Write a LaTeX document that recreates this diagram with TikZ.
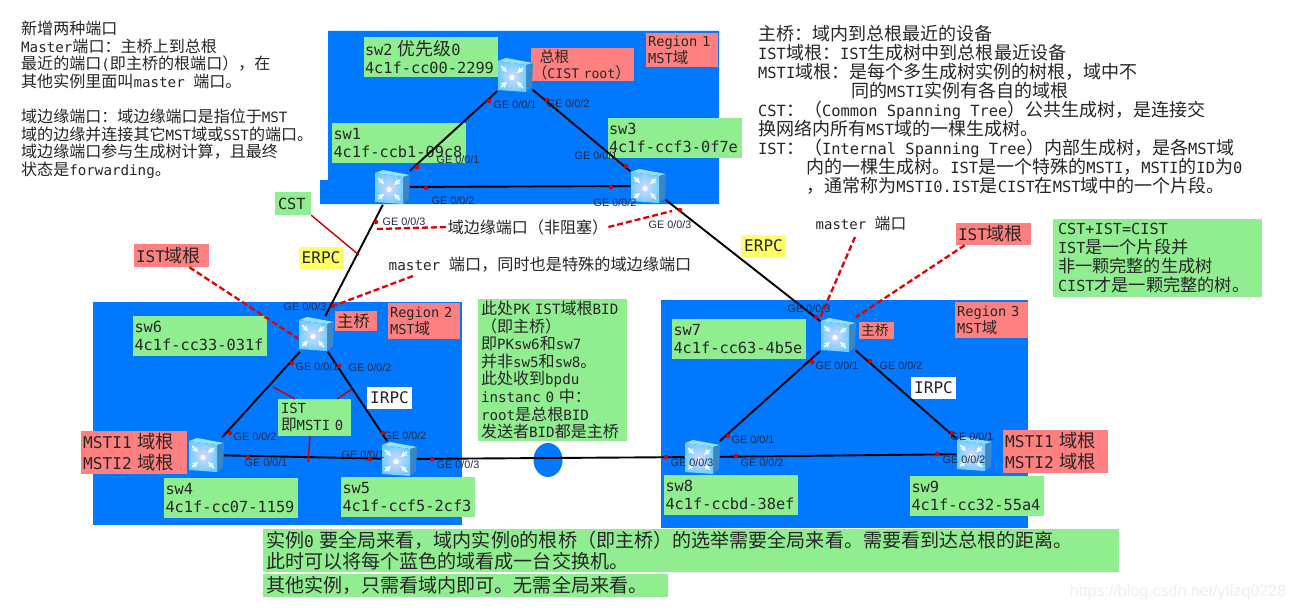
\documentclass[tikz,border=0pt]{standalone}
\usepackage{fontspec}
\setmainfont{DejaVu Sans Mono}
\newfontfamily\cjkfont[Scale=1.13]{Noto Sans CJK SC}
\newfontfamily\cjkwide[Scale=1.17]{Noto Sans CJK SC}
\newfontfamily\portfont{Liberation Sans}
\newcommand\zh[1]{{\cjkfont #1}}
\newcommand\zc{^^^^ff1a}
\newcommand\zd{^^^^ff0c}
\newcommand\zl{^^^^ff08}
\newcommand\zr{^^^^ff09}

\definecolor{regionblue}{HTML}{0078FF}
\definecolor{labelgreen}{HTML}{90EE90}
\definecolor{notered}{HTML}{FF8080}
\definecolor{ringyellow}{HTML}{FFFF66}
\definecolor{darktext}{HTML}{262626}
\definecolor{porttext}{HTML}{1F2A44}

\tikzset{
  swnode/.style={minimum size=35pt,inner sep=0pt},
  swlabel/.style={fill=labelgreen,text=darktext,inner xsep=1.5pt,inner ysep=0pt,text width=131pt,minimum height=40pt,align=left,font=\fontsize{15.3}{18}\selectfont\let\cjkfont\cjkwide},
  redbox/.style 2 args={fill=notered,text=darktext,inner xsep=2pt,inner ysep=0pt,text width=#1,minimum height=#2,align=left},
  greenbox/.style 2 args={fill=labelgreen,text=darktext,inner xsep=3pt,inner ysep=0pt,text width=#1,minimum height=#2,align=left},
  ringbox/.style={text=darktext,minimum width=45pt,minimum height=22pt,inner sep=0pt,font=\fontsize{16}{18}\selectfont},
  note/.style={text=darktext,anchor=north west,inner sep=0pt,align=left},
  smallnote/.style={note,font=\fontsize{14.2}{17.6}\selectfont},
  bignote/.style={note,font=\fontsize{15.4}{19}\selectfont\let\cjkfont\cjkwide},
  portlabel/.style={text=porttext,inner sep=0pt,font=\portfont\fontsize{10.8}{12}\selectfont},
  portdot/.style={circle,fill=red!85!black,inner sep=0pt,minimum size=4.5pt},
  link/.style={line width=1.9pt,black},
  reddash/.style={line width=2.3pt,red!90!black,dash pattern=on 6pt off 3pt},
  thinred/.style={line width=1.4pt,red!80!black},
  switchicon/.pic={
    \shade[top color=blue!35!cyan!35!white,bottom color=blue!30!cyan!45!white] (-17,-14) -- (-9,-17) -- (18,-12) -- (11,-10) -- cycle;
    \fill[blue!45!cyan!55!gray] (11,-10) -- (18,-12) -- (17,12) -- (11,17) -- cycle;
    \shade[inner color=white!85!blue,outer color=blue!35!cyan!55!white] (-17,-14) -- (11,-10) -- (11,17) -- (-17,15) -- cycle;
    \draw[white,line width=1.6pt,-stealth] (-14,-9) -- (-8,-3);
    \draw[white,line width=1.6pt,-stealth] (8,-7) -- (2,-2);
    \draw[white,line width=1.6pt,-stealth] (-14,12) -- (-8,7);
    \draw[white,line width=1.6pt,-stealth] (8,13) -- (2,7);
    \fill[white] (-3,2.5) circle (2.6);
  },
}

\begin{document}
\begin{tikzpicture}[x=1pt,y=-1pt]
\useasboundingbox (0,0) rectangle (1294,610);
\fill[white] (0,0) rectangle (1294,610);

% Region backgrounds
\fill[regionblue] (328,31) -- (719,31) -- (719,204) -- (320,204) -- (320,180) -- (328,180) -- cycle;
\fill[regionblue] (93,302) rectangle (462,525);
\fill[regionblue] (661,300) rectangle (1028,528);

% Left notes
\node[smallnote] (noteports) at (21,21) {\zh{新增两种端口}\\
Master\zh{端口\zc{}主桥上到总根}\\
\zh{最近的端口}(\zh{即主桥的根端口\zr\zd{}在}\\
\zh{其他实例里面叫}master \zh{端口。}\\[17.6pt]
\zh{域边缘端口\zc{}域边缘端口是指位于}MST\\
\zh{域的边缘并连接其它}MST\zh{域或}SST\zh{的端口。}\\
\zh{域边缘端口参与生成树计算\zd{}且最终}\\
\zh{状态是}forwarding\zh{。}};

% Right notes
\node[bignote] (notetrees) at (758,25) {\zh{主桥\zc{}域内到总根最近的设备}\\
IST\zh{域根\zc{}}IST\zh{生成树中到总根最近设备}\\
MSTI\zh{域根\zc{}是每个多生成树实例的树根\zd{}域中不}\\
\hspace*{93pt}\zh{同的}MSTI\zh{实例有各自的域根}\\
CST\zh{\zc\zl}Common Spanning Tree\zh{\zr{}公共生成树\zd{}是连接交}\\
\zh{换网络内所有}MST\zh{域的一棵生成树。}\\
IST\zh{\zc\zl}Internal Spanning Tree\zh{\zr{}内部生成树\zd{}是各}MST\zh{域}\\
\hspace*{48pt}\zh{内的一棵生成树。}IST\zh{是一个特殊的}MSTI\zh{\zd}MSTI\zh{的}ID\zh{为}0\\
\hspace*{48pt}\zh{\zd{}通常称为}MSTI0.IST\zh{是}CIST\zh{在}MST\zh{域中的一个片段。}};

% Switch labels
\node[swlabel] (lbsw1) at (399,143) {sw1\\4c1f-ccb1-09c8};
\node[swlabel] (lbsw2) at (430.5,57) {sw2 \zh{优先级}0\\4c1f-cc00-2299};
\node[swlabel] (lbsw3) at (674.5,137.5) {sw3\\4c1f-ccf3-0f7e};
\node[swlabel] (lbsw4) at (231,498) {sw4\\4c1f-cc07-1159};
\node[swlabel] (lbsw5) at (408,497) {sw5\\4c1f-ccf5-2cf3};
\node[swlabel] (lbsw6) at (200,335.5) {sw6\\4c1f-cc33-031f};
\node[swlabel] (lbsw7) at (739,339) {sw7\\4c1f-cc63-4b5e};
\node[swlabel] (lbsw8) at (731,495) {sw8\\4c1f-ccbd-38ef};
\node[swlabel] (lbsw9) at (977,495.5) {sw9\\4c1f-cc32-55a4};

% Red boxes
\node[redbox={100pt}{33pt},inner xsep=1.5pt,font=\fontsize{13.2}{16}\selectfont] (rootbox) at (582.5,64.5) {\hspace*{7pt}\zh{总根}\\\zh{\zl}CIST root\zh{\zr}};
\node[redbox={68pt}{34pt},font=\fontsize{13.7}{17}\selectfont] (region1) at (682,50) {Region 1\\MST\zh{域}};
\node[redbox={68pt}{36pt},font=\fontsize{13.7}{17}\selectfont] (region2) at (424,321) {Region 2\\MST\zh{域}};
\node[redbox={69pt}{36pt},font=\fontsize{13.7}{17}\selectfont] (region3) at (991.5,320) {Region 3\\MST\zh{域}};
\node[redbox={38pt}{20pt},font=\fontsize{14.5}{17}\selectfont] (mainbr6) at (356,321) {\zh{主桥}};
\node[redbox={31pt}{17pt},font=\fontsize{12.2}{15}\selectfont] (mainbr7) at (876.5,330.5) {\zh{主桥}};
\node[redbox={102pt}{43pt},font=\fontsize{16.2}{21}\selectfont] (mstileft) at (134,452.5) {MSTI1 \zh{域根}\\MSTI2 \zh{域根}};
\node[redbox={101pt}{43pt},font=\fontsize{16.2}{21}\selectfont] (mstiright) at (1055.5,451.5) {MSTI1 \zh{域根}\\MSTI2 \zh{域根}};
\node[redbox={71pt}{23pt},font=\fontsize{16}{18}\selectfont] (istleft) at (171.5,255.5) {IST\zh{域根}};
\node[redbox={71pt}{22pt},font=\fontsize{16}{18}\selectfont] (istright) at (993.5,234) {IST\zh{域根}};

% Green boxes
\node[greenbox={30pt}{23pt},font=\fontsize{15.3}{18}\selectfont] (cstbox) at (293,203.5) {CST};
\node[greenbox={67pt}{37pt},font=\fontsize{13.9}{17}\selectfont] (istbox) at (314.5,417.5) {IST\\\zh{即}MSTI 0};
\node[greenbox={143pt}{142pt},font=\fontsize{14.2}{17.6}\selectfont] (pkbox) at (552.5,370) {\zh{此处}PK IST\zh{域根}BID\\
\zh{\zl{}即主桥\zr}\\
\zh{即}PKsw6\zh{和}sw7\\
\zh{并非}sw5\zh{和}sw8\zh{。}\\
\zh{此处收到}bpdu\\
instanc 0 \zh{中\zc}\\
root\zh{是总根}BID\\
\zh{发送者}BID\zh{都是主桥}};
\node[greenbox={199pt}{78pt},inner xsep=5pt,font=\fontsize{15.2}{19}\selectfont] (cistbox) at (1157.5,258) {CST+IST=CIST\\
IST\zh{是一个片段并}\\
\zh{非一颗完整的生成树}\\
CIST\zh{才是一颗完整的树。}};
\node[greenbox={850pt}{43pt},font=\fontsize{16.3}{21}\selectfont\let\cjkfont\cjkwide] (bottom1) at (691,550.5) {\zh{实例}0 \zh{要全局来看\zd{}域内实例}0\zh{的根桥\zl{}即主桥\zr{}的选举需要全局来看。需要看到达总根的距离。}\\
\zh{此时可以将每个蓝色的域看成一台交换机。}};
\node[greenbox={399pt}{23pt},font=\fontsize{16.3}{21}\selectfont\let\cjkfont\cjkwide] (bottom2) at (465.5,585.5) {\zh{其他实例\zd{}只需看域内即可。无需全局来看。}};

% Ring labels
\node[ringbox,fill=ringyellow] (erpcleft) at (321,258) {ERPC};
\node[ringbox,fill=ringyellow] (erpcright) at (763.5,246) {ERPC};
\node[ringbox,fill=white] (irpcleft) at (389.5,398) {IRPC};
\node[ringbox,fill=white] (irpcright) at (933.5,388) {IRPC};

% Switches
\node[swnode] (sw1) at (392,187) {};
\node[swnode] (sw2) at (515,75) {};
\node[swnode] (sw3) at (648,186) {};
\node[swnode] (sw4) at (206,455) {};
\node[swnode] (sw5) at (399,459) {};
\node[swnode] (sw6) at (316,334) {};
\node[swnode] (sw7) at (838,335) {};
\node[swnode] (sw8) at (702,457) {};
\node[swnode] (sw9) at (974,454) {};

% Blue mark on the link between regions
\fill[regionblue] (548,460) ellipse (14.5 and 17);

% Links
\draw[link] (sw1) -- (sw2);
\draw[link] (sw2) -- (sw3);
\draw[link] (sw1) -- (sw3);
\draw[link] (sw1) -- (sw6);
\draw[link] (sw3) -- (sw7);
\draw[link] (sw6) -- (sw4);
\draw[link] (sw6) -- (sw5);
\draw[link] (sw4) -- (sw5);
\draw[link] (sw5) -- (sw8);
\draw[link] (sw7) -- (sw8);
\draw[link] (sw7) -- (sw9);
\draw[link] (sw8) -- (sw9);

% Port dots
\node[portdot] (dota) at (489,101) {};
\node[portdot] (dotb) at (547,100) {};
\node[portdot] (dotc) at (417,167) {};
\node[portdot] (dotd) at (426,188) {};
\node[portdot] (dote) at (376,222) {};
\node[portdot] (dotf) at (626,166) {};
\node[portdot] (dotg) at (611,187) {};
\node[portdot] (doth) at (680,210) {};
\node[portdot] (doti) at (333,306) {};
\node[portdot] (dotj) at (292,363) {};
\node[portdot] (dotk) at (339,366) {};
\node[portdot] (dotl) at (230,433) {};
\node[portdot] (dotm) at (383,433) {};
\node[portdot] (dotn) at (248,457) {};
\node[portdot] (doto) at (370,459) {};
\node[portdot] (dotp) at (432,459) {};
\node[portdot] (dotq) at (666,457) {};
\node[portdot] (dotr) at (816,317) {};
\node[portdot] (dots) at (812,362) {};
\node[portdot] (dott) at (870,361) {};
\node[portdot] (dotu) at (728,436) {};
\node[portdot] (dotv) at (736,456) {};
\node[portdot] (dotw) at (952,433) {};
\node[portdot] (dotx) at (937,454) {};

% Remarks with red lines
\node[text=darktext,inner sep=0pt,font=\fontsize{14.2}{17}\selectfont] (edgenote) at (528,227) {\zh{域边缘端口\zl{}非阻塞\zr}};
\node[text=darktext,inner sep=0pt,font=\fontsize{14.3}{17}\selectfont] (masterleft) at (540,265) {master \zh{端口\zd{}同时也是特殊的域边缘端口}};
\node[text=darktext,inner sep=0pt,font=\fontsize{14}{17}\selectfont] (masterright) at (861,224) {master \zh{端口}};
\coordinate (edgea) at (377,229);
\coordinate (edgeb) at (672,211);
\coordinate (mastera) at (413,276);
\coordinate (masterb) at (855,237);
\coordinate (cstend) at (359,255);
\draw[reddash] (edgea) -- (edgenote.west);
\draw[reddash] (edgenote.east) -- (edgeb);
\draw[reddash] (mastera) -- (doti);
\draw[reddash] (masterb) -- (sw7.north west);
\draw[reddash] (istleft) -- (sw6.195);
\draw[reddash] ([xshift=9pt]istright.south west) -- (sw7.north east);
\draw[thinred] (cstbox.south east) -- (cstend);
\coordinate (ista) at (273,387);
\coordinate (istb) at (352,389);
\coordinate (istc) at (308,462);
\draw[thinred] (ista) -- (295,399);
\draw[thinred] (istb) -- (337,399);
\draw[thinred] (310,436) -- (istc);

% Switch icons
\pic at (sw1) {switchicon};
\pic at (sw2) {switchicon};
\pic at (sw3) {switchicon};
\pic at (sw4) {switchicon};
\pic at (sw5) {switchicon};
\pic at (sw6) {switchicon};
\pic at (sw7) {switchicon};
\pic at (sw8) {switchicon};
\pic at (sw9) {switchicon};

% Port labels
\node[portlabel] (gea) at (515,105) {GE 0/0/1};
\node[portlabel] (geb) at (568,104) {GE 0/0/2};
\node[portlabel] (gec) at (458,160) {GE 0/0/1};
\node[portlabel] (ged) at (453,201) {GE 0/0/2};
\node[portlabel] (gee) at (404,222) {GE 0/0/3};
\node[portlabel] (gef) at (596,156) {GE 0/0/1};
\node[portlabel] (geg) at (615,203) {GE 0/0/2};
\node[portlabel] (geh) at (670,225) {GE 0/0/3};
\node[portlabel] (gei) at (305,307) {GE 0/0/3};
\node[portlabel] (gej) at (317,367) {GE 0/0/1};
\node[portlabel] (gek) at (370,368) {GE 0/0/2};
\node[portlabel] (gel) at (255,437) {GE 0/0/2};
\node[portlabel] (gem) at (405,436) {GE 0/0/2};
\node[portlabel] (gen) at (266,463) {GE 0/0/1};
\node[portlabel] (geo) at (363,455) {GE 0/0/1};
\node[portlabel] (gep) at (458,465) {GE 0/0/3};
\node[portlabel] (geq) at (692,463) {GE 0/0/3};
\node[portlabel] (ger) at (809,309) {GE 0/0/3};
\node[portlabel] (ges) at (837,366) {GE 0/0/1};
\node[portlabel] (get) at (901,366) {GE 0/0/2};
\node[portlabel] (geu) at (753,440) {GE 0/0/1};
\node[portlabel] (gev) at (762,463) {GE 0/0/2};
\node[portlabel] (gew) at (972,437) {GE 0/0/1};
\node[portlabel] (gex) at (964,460) {GE 0/0/2};

% Watermark
\node[text=gray!13,inner sep=0pt,font=\portfont\fontsize{16}{18}\selectfont] (watermark) at (1178,592) {https://blog.csdn.net/ytlzq0228};

\end{tikzpicture}
\end{document}
